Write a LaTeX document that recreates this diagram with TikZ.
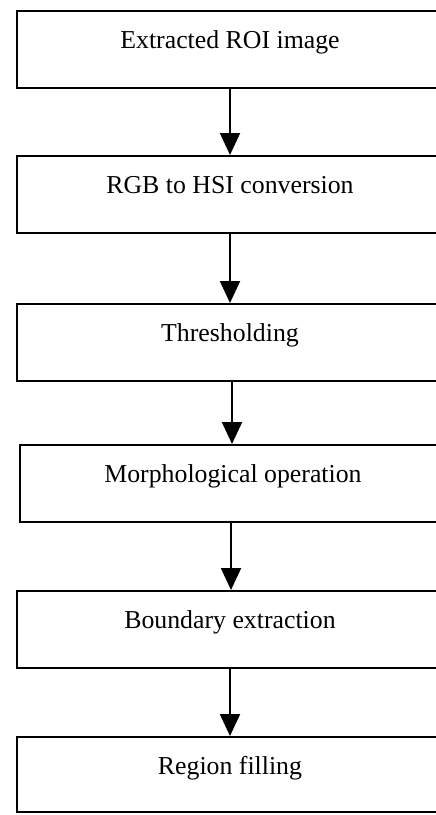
\documentclass[tikz,border=0pt]{standalone}
\usepackage{fontspec}
\setmainfont{Liberation Serif}
\usetikzlibrary{arrows.meta}
\begin{document}
\begin{tikzpicture}[x=1pt,y=-1pt,
  stepbox/.style={draw=black, line width=2pt, rectangle, inner sep=0pt,
    minimum width=426pt, text height=37pt, text depth=40pt, anchor=base,
    font=\fontsize{25.8}{30}\selectfont},
  flow/.style={line width=2pt, -{Triangle[width=20pt,length=22pt]}}]
\useasboundingbox (0,0) rectangle (436,815);
\node[stepbox] (b1) at (230,48) {Extracted ROI image};
\node[stepbox] (b2) at (230,193) {RGB to HSI conversion};
\node[stepbox] (b3) at (230,341) {Thresholding};
\node[stepbox] (b4) at (233,482) {Morphological operation};
\node[stepbox] (b5) at (230,628) {Boundary extraction};
\node[stepbox, text depth=38pt] (b6) at (230,774) {Region filling};
\draw[flow] (b1.south) -- (b2.north);
\draw[flow] (b2.south) -- (b3.north);
\draw[flow] ([xshift=2pt]b3.south) -- ([xshift=2pt]b3.south |- b4.north);
\draw[flow] ([xshift=-2pt]b4.south) -- ([xshift=-2pt]b4.south |- b5.north);
\draw[flow] (b5.south) -- (b6.north);
\end{tikzpicture}
\end{document}
